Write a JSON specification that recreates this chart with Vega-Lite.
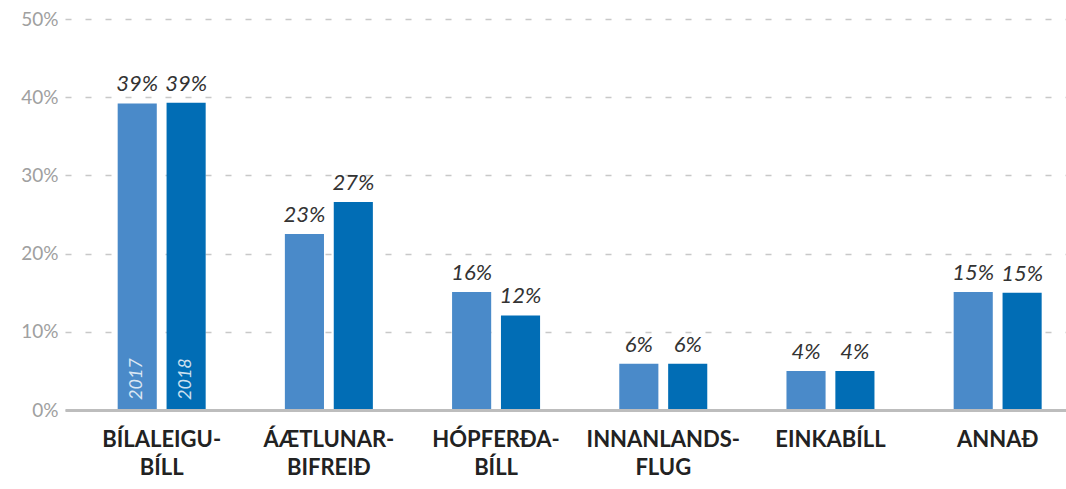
{
  "$schema": "https://vega.github.io/schema/vega-lite/v6.json",
  "width": 1001,
  "height": 391,
  "autosize": {"type": "none"},
  "padding": {"left": 65, "top": 19, "right": 0, "bottom": 79},
  "background": "white",
  "config": {"view": {"stroke": null}, "font": "Lato"},
  "data": {
    "values": [
      {"cat": "BÍLALEIGU-\nBÍLL", "year": "2017", "value": 39.2, "label": "39%"},
      {"cat": "BÍLALEIGU-\nBÍLL", "year": "2018", "value": 39.3, "label": "39%"},
      {"cat": "ÁÆTLUNAR-\nBIFREIÐ", "year": "2017", "value": 22.5, "label": "23%"},
      {"cat": "ÁÆTLUNAR-\nBIFREIÐ", "year": "2018", "value": 26.6, "label": "27%"},
      {"cat": "HÓPFERÐA-\nBÍLL", "year": "2017", "value": 15.1, "label": "16%"},
      {"cat": "HÓPFERÐA-\nBÍLL", "year": "2018", "value": 12.1, "label": "12%"},
      {"cat": "INNANLANDS-\nFLUG", "year": "2017", "value": 5.9, "label": "6%"},
      {"cat": "INNANLANDS-\nFLUG", "year": "2018", "value": 5.9, "label": "6%"},
      {"cat": "EINKABÍLL", "year": "2017", "value": 5.0, "label": "4%"},
      {"cat": "EINKABÍLL", "year": "2018", "value": 5.0, "label": "4%"},
      {"cat": "ANNAÐ", "year": "2017", "value": 15.1, "label": "15%"},
      {"cat": "ANNAÐ", "year": "2018", "value": 15.0, "label": "15%"}
    ]
  },
  "encoding": {
    "x": {
      "field": "cat",
      "type": "nominal",
      "sort": null,
      "scale": {"paddingInner": 0.4737, "paddingOuter": 0.2303, "align": 0.684},
      "axis": {
        "title": null,
        "domainColor": "#bdbdbd",
        "domainWidth": 3,
        "ticks": false,
        "labelAngle": 0,
        "labelFontSize": 22,
        "labelFontWeight": "bold",
        "labelColor": "#222222",
        "labelPadding": 19,
        "labelLineHeight": 28,
        "labelExpr": "split(datum.label, '\\n')",
        "zindex": 1
      }
    },
    "xOffset": {
      "field": "year",
      "type": "nominal",
      "scale": {"paddingInner": 0.2, "paddingOuter": 0}
    },
    "y": {
      "field": "value",
      "type": "quantitative",
      "scale": {"domain": [0, 50]},
      "axis": {
        "title": null,
        "values": [0, 10, 20, 30, 40, 50],
        "labelExpr": "datum.value + '%'",
        "domain": false,
        "ticks": false,
        "labelPadding": 7,
        "labelFontSize": 19,
        "labelColor": "#a0a0a0",
        "gridColor": "#c8c8c8",
        "gridWidth": 1.5,
        "gridDash": [6, 14]
      }
    }
  },
  "layer": [
    {
      "mark": {"type": "bar"},
      "encoding": {
        "color": {
          "field": "year",
          "type": "nominal",
          "scale": {"domain": ["2017", "2018"], "range": ["#4a8ac9", "#016db5"]},
          "legend": null
        }
      }
    },
    {
      "mark": {
        "type": "text",
        "fontStyle": "italic",
        "fontSize": 22,
        "color": "#333333",
        "baseline": "alphabetic",
        "dy": -12
      },
      "encoding": {"text": {"field": "label"}}
    },
    {
      "transform": [{"filter": "indexof(datum.cat, 'BÍLALEIGU') === 0"}],
      "mark": {
        "type": "text",
        "fontStyle": "italic",
        "fontSize": 18,
        "color": "white",
        "opacity": 0.8,
        "angle": 270,
        "align": "left",
        "baseline": "middle",
        "dx": 10
      },
      "encoding": {
        "y": {"datum": 0, "type": "quantitative"},
        "text": {"field": "year"}
      }
    }
  ]
}
